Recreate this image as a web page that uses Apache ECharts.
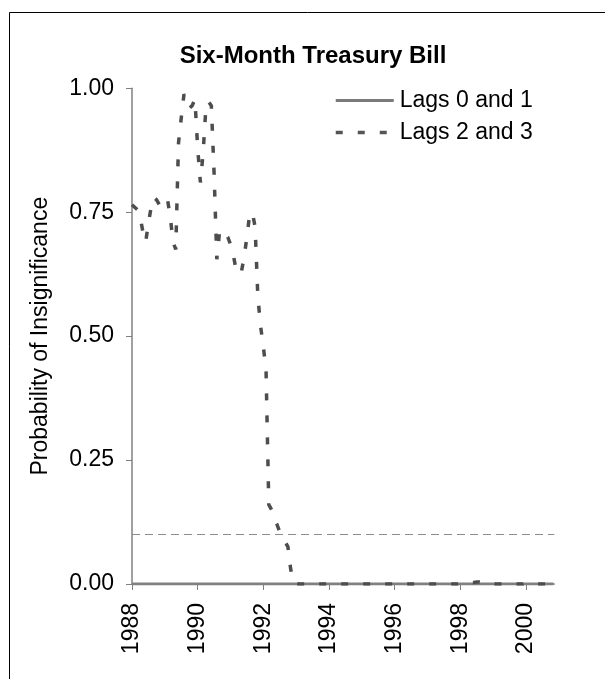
<!DOCTYPE html>
<html>
<head>
<meta charset="utf-8">
<script src="https://cdn.jsdelivr.net/npm/echarts@6/dist/echarts.min.js"></script>
<style>
  html, body { margin: 0; padding: 0; background: #fff; }
  #chart { width: 605px; height: 679px; }
</style>
</head>
<body>
<div id="chart"></div>
<script>
// Monthly series, January 1988 onward.
const startYear = 1988;
const yearTicks = [1988, 1990, 1992, 1994, 1996, 1998, 2000];

// Probability of insignificance, lags 2 and 3 (one row per year).
const lags23 = [
  0.765, 0.760, 0.755, 0.740, 0.710, 0.690, 0.728, 0.760, 0.780, 0.775, 0.765, 0.760, // 1988
  0.770, 0.775, 0.740, 0.690, 0.675, 0.890, 0.940, 0.988, 0.975, 0.960, 0.965, 0.978, // 1989
  0.880, 0.810, 0.870, 0.960, 0.973, 0.965, 0.830, 0.655, 0.710, 0.715, 0.705, 0.700, // 1990
  0.685, 0.665, 0.635, 0.625, 0.630, 0.660, 0.700, 0.745, 0.750, 0.720, 0.580, 0.520, // 1991
  0.480, 0.430, 0.160, 0.150, 0.130, 0.120, 0.105, 0.095, 0.085, 0.075, 0.030, 0.003, // 1992
  0.001, 0.000, 0.000, 0.000, 0.000, 0.000, 0.000, 0.000, 0.000, 0.000, 0.000, 0.000, // 1993
  0.000, 0.000, 0.000, 0.000, 0.000, 0.000, 0.000, 0.000, 0.000, 0.000, 0.000, 0.000, // 1994
  0.000, 0.000, 0.000, 0.000, 0.000, 0.000, 0.000, 0.000, 0.000, 0.000, 0.000, 0.000, // 1995
  0.000, 0.000, 0.000, 0.000, 0.000, 0.000, 0.000, 0.000, 0.000, 0.000, 0.000, 0.000, // 1996
  0.000, 0.000, 0.000, 0.000, 0.000, 0.000, 0.000, 0.000, 0.000, 0.000, 0.000, 0.000, // 1997
  0.001, 0.003, 0.003, 0.004, 0.003, 0.003, 0.004, 0.004, 0.003, 0.003, 0.004, 0.002, // 1998
  0.001, 0.000, 0.000, 0.000, 0.000, 0.000, 0.000, 0.000, 0.000, 0.000, 0.000, 0.000, // 1999
  0.002, 0.002, 0.000, 0.000, 0.000, 0.000, 0.000, 0.000, 0.000, 0.000, 0.000         // 2000
];

// Probability of insignificance, lags 0 and 1.
const lags01 = [
  0, 0, 0, 0, 0, 0, 0, 0, 0, 0, 0, 0, // 1988
  0, 0, 0, 0, 0, 0, 0, 0, 0, 0, 0, 0, // 1989
  0, 0, 0, 0, 0, 0, 0, 0, 0, 0, 0, 0, // 1990
  0, 0, 0, 0, 0, 0, 0, 0, 0, 0, 0, 0, // 1991
  0, 0, 0, 0, 0, 0, 0, 0, 0, 0, 0, 0, // 1992
  0, 0, 0, 0, 0, 0, 0, 0, 0, 0, 0, 0, // 1993
  0, 0, 0, 0, 0, 0, 0, 0, 0, 0, 0, 0, // 1994
  0, 0, 0, 0, 0, 0, 0, 0, 0, 0, 0, 0, // 1995
  0, 0, 0, 0, 0, 0, 0, 0, 0, 0, 0, 0, // 1996
  0, 0, 0, 0, 0, 0, 0, 0, 0, 0, 0, 0, // 1997
  0, 0, 0, 0, 0, 0, 0, 0, 0, 0, 0, 0, // 1998
  0, 0, 0, 0, 0, 0, 0, 0, 0, 0, 0, 0, // 1999
  0, 0, 0, 0, 0, 0, 0, 0, 0, 0, 0     // 2000
];

// 10% significance threshold
const threshold = 0.1;

const toPairs = arr => arr.map((v, i) => [startYear + i / 12, v]);
const xMax = startYear + (lags23.length - 1) / 12 + 0.03;

const FONT = 'Liberation Sans, Arial, sans-serif';
const SOLID = { color: '#808080', width: 3 };
const DASHED = { color: '#4d4d4d', width: 3.5, type: [7, 15] };

const chart = echarts.init(document.getElementById('chart'), null, { renderer: 'canvas' });

chart.setOption({
  backgroundColor: '#ffffff',
  animation: false,
  textStyle: { fontFamily: FONT, color: '#000' },
  title: {
    text: 'Six-Month Treasury Bill',
    left: 308, top: 39, textAlign: 'center',
    textStyle: { fontFamily: FONT, fontSize: 24, fontWeight: 'bold', color: '#000' }
  },
  graphic: [{
    type: 'rect', left: 7, top: 10, silent: true,
    shape: { x: 0.5, y: 0.5, width: 640, height: 720 },
    style: { fill: null, stroke: '#000', lineWidth: 1 }
  }],
  legend: {
    orient: 'vertical', left: 334, top: 89, padding: 0,
    itemWidth: 58, itemHeight: 14, itemGap: 9,
    itemStyle: { opacity: 0 },
    textStyle: { fontFamily: FONT, fontSize: 23, color: '#000', padding: [0, 0, 0, 1] },
    data: [
      { name: 'Lags 0 and 1', lineStyle: { color: '#7a7a7a', width: 3 } },
      { name: 'Lags 2 and 3', lineStyle: { color: '#555555', width: 3.5, type: [7, 15] } }
    ]
  },
  grid: { left: 132, right: 50.7, top: 88.3, bottom: 95, containLabel: false },
  xAxis: {
    type: 'value', min: startYear, max: xMax, interval: 2,
    axisLine: { lineStyle: { color: '#808080', width: 1.5 } },
    axisTick: { show: true, length: 6, lineStyle: { color: '#808080', width: 1 }, customValues: yearTicks },
    axisLabel: {
      rotate: 90, margin: 19, fontSize: 23, color: '#000', fontFamily: FONT,
      customValues: yearTicks, formatter: v => String(Math.round(v))
    },
    splitLine: { show: false }
  },
  yAxis: {
    type: 'value', min: 0, max: 1, interval: 0.25,
    name: 'Probability of Insignificance', nameLocation: 'middle', nameGap: 80,
    nameTextStyle: { fontFamily: FONT, fontSize: 23, color: '#000' },
    axisLine: { show: true, lineStyle: { color: '#808080', width: 1.5 } },
    axisTick: { show: true, length: 6, lineStyle: { color: '#808080', width: 1 } },
    axisLabel: { margin: 18, fontSize: 23, color: '#000', fontFamily: FONT, formatter: v => v.toFixed(2) },
    splitLine: { show: false }
  },
  series: [
    {
      name: 'Lags 0 and 1', type: 'line', showSymbol: false, symbol: 'none',
      data: toPairs(lags01),
      lineStyle: SOLID,
      itemStyle: { color: SOLID.color },
      markLine: {
        silent: true, symbol: 'none', label: { show: false },
        lineStyle: { color: '#8c8c8c', type: [8, 5], width: 1 },
        data: [{ yAxis: threshold }]
      },
      z: 2
    },
    {
      name: 'Lags 2 and 3', type: 'line', showSymbol: false, symbol: 'none',
      data: toPairs(lags23),
      lineStyle: DASHED,
      itemStyle: { color: DASHED.color },
      z: 3
    }
  ]
});
</script>
</body>
</html>
